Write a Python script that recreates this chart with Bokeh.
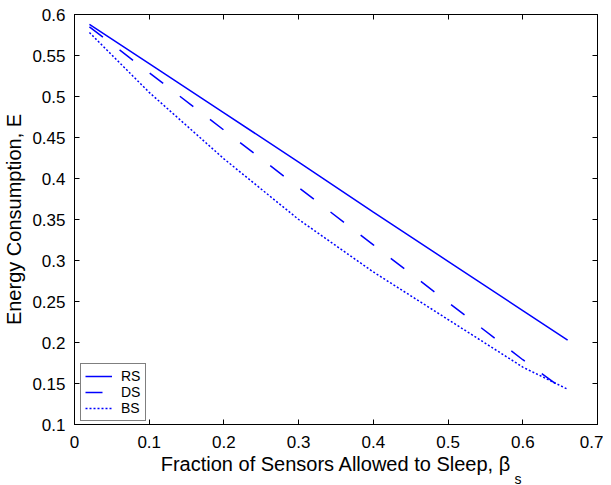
from bokeh.plotting import figure
from bokeh.models import LinearAxis, Title, Legend, LegendItem, FixedTicker, CustomJSTickFormatter
from bokeh.embed import file_html
from bokeh.resources import INLINE

beta = [0.02, 0.1, 0.2, 0.3, 0.4, 0.5, 0.6, 0.66]
rs = [0.588, 0.540, 0.480, 0.420, 0.359, 0.299, 0.239, 0.203]
ds = [0.585, 0.529, 0.459, 0.389, 0.319, 0.249, 0.179, 0.139]
bs = [0.578, 0.505, 0.424, 0.350, 0.286, 0.228, 0.170, 0.143]

x_ticks = [0, 0.1, 0.2, 0.3, 0.4, 0.5, 0.6, 0.7]
x_tick_labels = ["0", "0.1", "0.2", "0.3", "0.4", "0.5", "0.6", "0.7"]
y_ticks = [0.1, 0.15, 0.2, 0.25, 0.3, 0.35, 0.4, 0.45, 0.5, 0.55, 0.6]
y_tick_labels = ["0.1", "0.15", "0.2", "0.25", "0.3", "0.35", "0.4", "0.45", "0.5", "0.55", "0.6"]

FONT = "Liberation Sans"
BLUE = "#0000ff"

p = figure(frame_width=523, frame_height=410, x_range=(0, 0.7), y_range=(0.1, 0.6),
           output_backend="svg", toolbar_location=None,
           min_border_left=66, min_border_right=6, min_border_top=14, min_border_bottom=70)
p.grid.visible = False
p.outline_line_color = "black"
p.outline_line_width = 1
p.background_fill_color = "white"

r1 = p.line(beta, rs, line_color=BLUE, line_width=1.5)
r2 = p.line(beta, ds, line_color=BLUE, line_width=1.5, line_dash="17 21")
r3 = p.line(beta, bs, line_color=BLUE, line_width=1.5, line_dash="2 2")

def style_axis(ax, ticks, labels, show_labels=True):
    ax.ticker = FixedTicker(ticks=ticks)
    ax.major_tick_in = 5
    ax.major_tick_out = 0
    ax.minor_tick_in = 0
    ax.minor_tick_out = 0
    ax.axis_line_color = "black"
    ax.major_tick_line_color = "black"
    ax.major_label_text_font = FONT
    ax.major_label_text_color = "black"
    if show_labels:
        ax.major_label_overrides = {t: l for t, l in zip(ticks, labels)}
        ax.major_label_text_font_size = "17px"
    else:
        ax.formatter = CustomJSTickFormatter(code="return '';")
        ax.major_label_text_font_size = "1px"
        ax.major_label_standoff = 0

style_axis(p.xaxis[0], x_ticks, x_tick_labels)
p.xaxis[0].major_label_standoff = 11
p.xaxis[0].axis_label = "Fraction of Sensors Allowed to Sleep, \u03b2"
p.xaxis[0].axis_label_text_font = FONT
p.xaxis[0].axis_label_text_font_size = "20px"
p.xaxis[0].axis_label_text_font_style = "normal"
p.xaxis[0].axis_label_text_color = "black"
p.xaxis[0].axis_label_standoff = 2

style_axis(p.yaxis[0], y_ticks, y_tick_labels)
p.yaxis[0].major_label_standoff = 9
p.yaxis[0].axis_label = "Energy Consumption, E"
p.yaxis[0].axis_label_text_font = FONT
p.yaxis[0].axis_label_text_font_size = "20px"
p.yaxis[0].axis_label_text_font_style = "normal"
p.yaxis[0].axis_label_text_color = "black"
p.yaxis[0].axis_label_standoff = 4

ax_r = LinearAxis()
style_axis(ax_r, y_ticks, y_tick_labels, show_labels=False)
p.add_layout(ax_r, "right")
ax_t = LinearAxis()
style_axis(ax_t, x_ticks, x_tick_labels, show_labels=False)
p.add_layout(ax_t, "above")

sub = Title(text="s", align="left", offset=440, standoff=-18,
            text_font=FONT, text_font_size="14px", text_font_style="normal",
            text_color="black")
p.add_layout(sub, "below")

legend = Legend(items=[LegendItem(label="RS", renderers=[r1]),
                       LegendItem(label="DS", renderers=[r2]),
                       LegendItem(label="BS", renderers=[r3])],
                location=(6, 3), margin=0, padding=4, spacing=0,
                label_height=14, glyph_height=14, glyph_width=27,
                label_standoff=9, label_text_font=FONT, label_text_font_size="14px",
                label_text_color="black",
                border_line_color="black", border_line_width=1.5,
                background_fill_alpha=1)
p.add_layout(legend, "center")

open("out.html", "w").write(file_html(p, INLINE))
